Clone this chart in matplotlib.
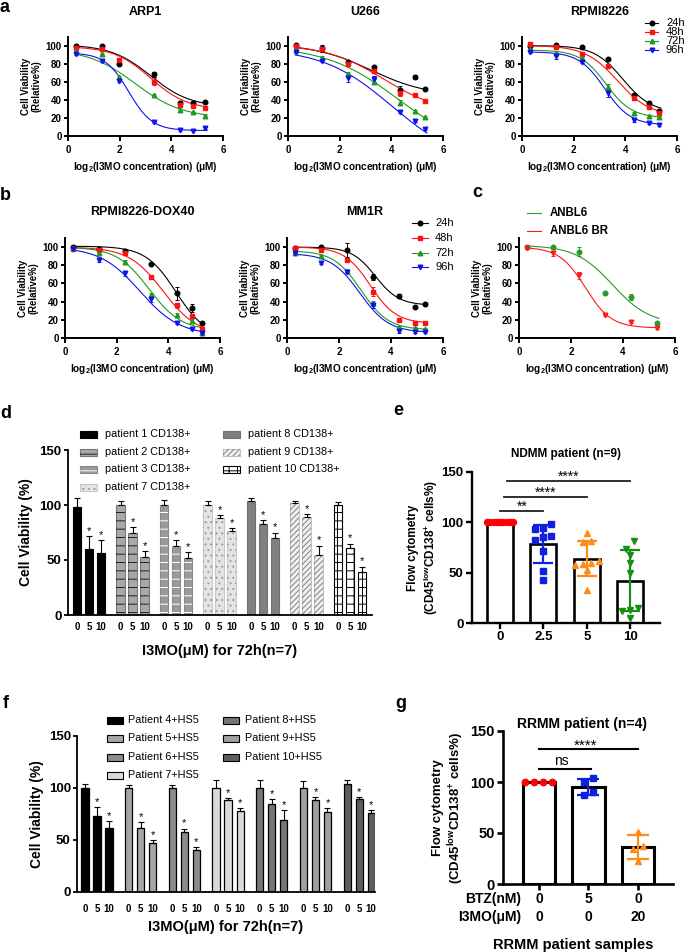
import numpy as np
import matplotlib
matplotlib.use('Agg')
import matplotlib.pyplot as plt
from matplotlib.lines import Line2D
from matplotlib.patches import Rectangle
import matplotlib.transforms as mtransforms

plt.rcParams['font.family'] = ['Liberation Sans', 'DejaVu Sans']
plt.rcParams['mathtext.fontset'] = 'custom'
plt.rcParams['mathtext.rm'] = 'Liberation Sans'
plt.rcParams['mathtext.bf'] = 'Liberation Sans:bold'
plt.rcParams['mathtext.it'] = 'Liberation Sans:italic'
plt.rcParams['hatch.linewidth'] = 0.7

# ======================= DATA =======================
TIME_LABELS = ['24h', '48h', '72h', '96h']

# ---- panel a ----
ARP1_LOGC = [0.32, 1.32, 1.97, 3.32, 4.32, 4.85, 5.32]
ARP1_Y = [[100, 99, 80, 68, 36, 37, 38],
          [97, 96, 84, 60, 34, 33, 31],
          [94, 91, 65, 45, 29, 26, 22],
          [91, 83, 61, 15, 7, 6, 9]]
ARP1_ERR = [[2, 1, 1, 3, 3, 2, 1],
            [1, 1, 1, 4, 2, 2, 1],
            [1, 1, 1, 1, 1, 1, 1],
            [1, 1, 1, 1, 1, 1, 1]]
ARP1_FIT = [[101, 32, 3.2, 1.3], [99, 29, 3.2, 1.4], [96, 20, 2.6, 1.1], [92, 6, 2.35, 2.2]]

U266_LOGC = [0.32, 1.32, 2.32, 3.32, 4.32, 4.91, 5.32]
U266_Y = [[101, 97, 82, 76, 51, 65, 52],
          [99, 96, 80, 72, 47, 45, 39],
          [95, 86, 68, 60, 37, 28, 21],
          [93, 83, 64, 63, 27, 17, 8]]
U266_ERR = [[1, 4, 2, 1, 4, 2, 1],
            [1, 2, 2, 2, 3, 1, 1],
            [1, 2, 3, 3, 3, 1, 1],
            [1, 1, 4, 3, 2, 1, 1]]
U266_FIT = [[102, 44, 3.2, 0.9], [101, 25, 3.7, 0.9], [100, -20, 4.3, 0.7], [97, -30, 4.0, 0.75]]

RPMI_LOGC = [0.32, 1.32, 2.32, 3.32, 4.32, 4.91, 5.32]
RPMI_Y = [[100, 101, 98, 85, 45, 36, 28],
          [102, 98, 91, 77, 42, 32, 25],
          [96, 92, 86, 54, 25, 22, 21],
          [93, 88, 82, 47, 18, 14, 12]]
RPMI_ERR = [[1, 1, 1, 1, 2, 2, 2],
            [1, 1, 2, 2, 2, 2, 2],
            [1, 2, 1, 3, 2, 1, 1],
            [1, 3, 1, 4, 2, 1, 1]]
RPMI_FIT = [[100, 26, 3.9, 1.8], [100, 22, 3.7, 1.6], [95, 20, 3.25, 2.0], [93, 12, 3.2, 2.0]]

# ---- panel b ----
DOX_LOGC = [0.32, 1.32, 2.32, 3.32, 4.32, 4.91, 5.32]
DOX_Y = [[100, 98, 96, 81, 49, 33, 17],
         [98, 97, 93, 67, 36, 24, 10],
         [99, 94, 84, 47, 25, 19, 5],
         [98, 86, 71, 43, 17, 10, 6]]
DOX_ERR = [[1, 2, 2, 1, 7, 4, 1],
           [1, 1, 2, 2, 3, 2, 2],
           [1, 2, 2, 2, 2, 2, 1],
           [1, 2, 3, 3, 2, 1, 1]]
DOX_FIT = [[101, 0, 4.3, 1.7], [100, 3, 3.8, 1.5], [100, 8, 3.25, 1.6], [100, 3, 2.9, 1.3]]

MM1R_LOGC = [0.32, 1.32, 2.32, 3.32, 4.32, 4.91, 5.32]
MM1R_Y = [[99, 100, 97, 67, 46, 34, 37],
          [99, 97, 86, 51, 20, 17, 17],
          [94, 90, 74, 38, 12, 11, 10],
          [94, 83, 73, 36, 8, 7, 7]]
MM1R_ERR = [[2, 1, 8, 3, 2, 1, 1],
            [1, 1, 2, 5, 2, 1, 1],
            [1, 1, 2, 3, 1, 1, 1],
            [1, 2, 2, 3, 2, 1, 1]]
MM1R_FIT = [[100, 36, 3.4, 2.2], [100, 16, 3.2, 2.0], [96, 9, 2.85, 1.9], [93, 6, 2.8, 1.8]]

# ---- panel c ----
ANBL_LABELS = ['ANBL6', 'ANBL6 BR']
ANBL_LOGC = [0.32, 1.32, 2.32, 3.32, 4.32, 5.32]
ANBL_Y = [[100, 100, 95, 49, 45, 17],
          [99, 94, 69, 25, 18, 11]]
ANBL_ERR = [[2, 1, 5, 1, 3, 1],
            [1, 4, 4, 1, 1, 1]]
ANBL_FIT = [[102, 15, 3.6, 1.4], [100, 11, 2.55, 2.0]]

# ---- panel d ----
D_DOSES = ['0', '5', '10']
D_PATIENTS = ['patient 1 CD138+', 'patient 2 CD138+', 'patient 3 CD138+', 'patient 7 CD138+',
              'patient 8 CD138+', 'patient 9 CD138+', 'patient 10 CD138+']
D_MEAN = [[98, 60, 56], [100, 75, 53], [100, 63, 52], [100, 88, 76],
          [104, 83, 70], [102, 89, 55], [100, 61, 39]]
D_SD = [[8, 12, 12], [4, 5, 5], [5, 5, 5], [4, 3, 3], [2, 3, 5], [2, 3, 8], [3, 4, 5]]

# ---- panel e ----
E_DOSES = ['0', '2.5', '5', '10']
E_POINTS = [[100, 100, 100, 100, 100, 100, 100, 100, 100],
            [98, 94, 93, 86, 85, 82, 72, 52, 43],
            [89, 81, 80, 62, 60, 59, 58, 53, 33],
            [81, 74, 68, 60, 50, 15, 13, 12, 5]]
E_SIG = [(0, 1, '**'), (0, 2, '****'), (0, 3, '****')]

# ---- panel f ----
F_DOSES = ['0', '5', '10']
F_PATIENTS = ['Patient 4+HS5', 'Patient 5+HS5', 'Patient 6+HS5', 'Patient 7+HS5',
              'Patient 8+HS5', 'Patient 9+HS5', 'Patient 10+HS5']
F_MEAN = [[100, 73, 62], [100, 62, 47], [100, 58, 40], [100, 88, 78],
          [100, 85, 69], [100, 88, 77], [104, 89, 76]]
F_SD = [[4, 9, 6], [3, 5, 3], [3, 3, 3], [8, 2, 3], [8, 4, 10], [7, 3, 4], [4, 2, 3]]

# ---- panel g ----
G_BTZ = ['0', '5', '0']
G_I3MO = ['0', '0', '20']
G_POINTS = [[100, 100, 100, 100],
            [104, 100, 90, 87],
            [51, 37, 34, 23]]
G_SIG = [(0, 1, 'ns'), (0, 2, '****')]

# ======================= FIGURE =======================
W, H = 687, 952
fig = plt.figure(figsize=(W / 100, H / 100), dpi=100)
PX = mtransforms.Affine2D().scale(1.0 / W, -1.0 / H).translate(0, 1) + fig.transFigure


def add_ax(l, t, r, b):
    return fig.add_axes([l / W, 1 - b / H, (r - l) / W, (b - t) / H])


def ftext(x, y, s, **kw):
    kw.setdefault('ha', 'center')
    kw.setdefault('va', 'center')
    return fig.text(x / W, 1 - y / H, s, **kw)


def base_style(ax, lw, tl, tp, fs):
    for s in ['top', 'right']:
        ax.spines[s].set_visible(False)
    for s in ['left', 'bottom']:
        ax.spines[s].set_linewidth(lw)
    ax.tick_params(direction='out', width=lw, length=tl, pad=tp, labelsize=fs)


DOSE_COLORS = ['#000000', '#ff1010', '#1f9a1f', '#1010f0']
DOSE_MARKERS = ['o', 's', '^', 'v']


def dose_panel(l, t, r, b, x, ys, errs, fits, colors, markers, title, title_y):
    ax = add_ax(l, t, r, b)
    xs = np.linspace(min(x) - 0.04, max(x) + 0.06, 200)
    for y, e, p, c, m in zip(ys, errs, fits, colors, markers):
        top, bot, x50, k = p
        ax.plot(xs, bot + (top - bot) / (1 + np.exp(k * (xs - x50))), color=c, lw=0.8, zorder=2)
        ax.errorbar(x, y, yerr=e, fmt=m, color=c, ms=3.3, elinewidth=0.7, capsize=1.5,
                    capthick=0.7, zorder=3, clip_on=False)
    ax.set_xlim(0, 6)
    ax.set_ylim(0, 110)
    base_style(ax, 1.4, 3.3, 3, 7)
    ax.tick_params(axis='y', pad=1.5, length=3)
    ax.set_xticks([0, 2, 4, 6], ['0', '2', '4', '6'], fontweight='bold')
    ax.set_yticks([0, 20, 40, 60, 80, 100], ['0', '20', '40', '60', '80', '100'], fontweight='bold')
    ax.set_xlabel(r'log$_{\mathbf{2}}$(I3MO concentration) (μM)', fontweight='bold', fontsize=7.2,
                  labelpad=4)
    ax.set_ylabel('Cell Viability\n(Relative%)', fontweight='bold', fontsize=6.9, labelpad=3,
                  linespacing=1.05)
    ftext((l + r) / 2, title_y, title, fontsize=9, fontweight='bold')
    return ax


# ---------- panel a ----------
dose_panel(68, 36.5, 223, 136, ARP1_LOGC, ARP1_Y, ARP1_ERR, ARP1_FIT, DOSE_COLORS, DOSE_MARKERS, 'ARP1', 12)
dose_panel(288, 36.5, 443, 136, U266_LOGC, U266_Y, U266_ERR, U266_FIT, DOSE_COLORS, DOSE_MARKERS, 'U266', 12)
dose_panel(522, 36.5, 677, 136, RPMI_LOGC, RPMI_Y, RPMI_ERR, RPMI_FIT, DOSE_COLORS, DOSE_MARKERS, 'RPMI8226', 12)

# ---------- panel b, c ----------
dose_panel(65, 238, 220, 338, DOX_LOGC, DOX_Y, DOX_ERR, DOX_FIT, DOSE_COLORS, DOSE_MARKERS, 'RPMI8226-DOX40', 212)
dose_panel(287, 238, 443, 338, MM1R_LOGC, MM1R_Y, MM1R_ERR, MM1R_FIT, DOSE_COLORS, DOSE_MARKERS, 'MM1R', 212)
ANBL_COLORS = ['#2a9a2a', '#ff1a1a']
ANBL_MARKERS = ['o', 'v']
dose_panel(519, 238, 675, 338, ANBL_LOGC, ANBL_Y, ANBL_ERR, ANBL_FIT, ANBL_COLORS, ANBL_MARKERS, '', 212)


def line_legend(x0, x1, text_x, ys, labels, colors, markers, fs, weight='normal'):
    for y, lab, c, m in zip(ys, labels, colors, markers):
        fig.add_artist(Line2D([x0, x1], [y, y], transform=PX, color=c, lw=0.8))
        if m is not None:
            fig.add_artist(Line2D([(x0 + x1) / 2], [y], transform=PX, color=c, marker=m, ms=3.3, lw=0))
        ftext(text_x, y, lab, ha='left', fontsize=fs, fontweight=weight)


line_legend(645, 658, 666, [23, 32, 41, 50], TIME_LABELS, DOSE_COLORS, DOSE_MARKERS, 8)
line_legend(412, 428, 435, [223, 238, 253, 267], TIME_LABELS, DOSE_COLORS, DOSE_MARKERS, 8)
line_legend(527, 541, 550, [213, 231], ANBL_LABELS, ANBL_COLORS, [None, None], 8.3, 'bold')

# ---------- panel d ----------
D_FACE = ['#000000', '#a8a8a8', '#9a9a9a', '#e4e4e4', '#808080', '#f0f0f0', '#ffffff']
D_EDGE = ['#000000', '#777777', '#888888', '#c8c8c8', '#707070', '#c0c0c0', '#000000']
D_HATCH = [None, '--', '--', '...', None, '//////', '++']
D_HCOL = [None, '#202020', '#ffffff', '#9a9a9a', None, '#808080', '#000000']

axd = add_ax(68, 450, 372, 615)
d_pos = []
for i in range(len(D_PATIENTS)):
    pos = [0.75 + i * 3.625 + j for j in range(3)]
    d_pos += pos
    axd.bar(pos, D_MEAN[i], width=0.68, color=D_FACE[i], edgecolor=D_EDGE[i], lw=0.8, zorder=2)
    if D_HATCH[i]:
        axd.bar(pos, D_MEAN[i], width=0.68, color='none', edgecolor=D_HCOL[i], hatch=D_HATCH[i],
                lw=0, zorder=2.5)
    axd.errorbar(pos, D_MEAN[i], yerr=[[0] * 3, D_SD[i]], fmt='none', ecolor='black', elinewidth=0.8,
                 capsize=2, capthick=0.8, zorder=3)
    for j in (1, 2):
        axd.text(pos[j], D_MEAN[i][j] + D_SD[i][j] + 2, '*', ha='center', va='baseline', fontsize=8)
axd.set_xlim(0, 25.33)
axd.set_ylim(0, 150)
base_style(axd, 1.3, 3, 1.5, 9.5)
axd.set_xticks(d_pos, D_DOSES * len(D_PATIENTS), fontweight='bold', fontsize=7)
axd.tick_params(axis='x', length=0, pad=5)
axd.set_yticks([0, 50, 100, 150], ['0', '50', '100', '150'], fontweight='bold')
axd.set_xlabel('I3MO(μM) for 72h(n=7)', fontweight='bold', fontsize=10.5, labelpad=9)
axd.set_ylabel('Cell Viability (%)', fontweight='bold', fontsize=10, labelpad=5)


def patch_legend(x0, w, text_x, ys, labels, faces, edges, hatches, hcols, fs):
    for y, lab, fc, ec, ht, hc in zip(ys, labels, faces, edges, hatches, hcols):
        fig.add_artist(Rectangle((x0, y - 3.5), w, 7, transform=PX, facecolor=fc, edgecolor=ec, lw=0.8))
        if ht:
            fig.add_artist(Rectangle((x0, y - 3.5), w, 7, transform=PX, facecolor='none',
                                     edgecolor=hc, hatch=ht, lw=0))
        ftext(text_x, y, lab, ha='left', fontsize=fs)


patch_legend(80, 17, 105, [434, 452, 469, 487], D_PATIENTS[:4], D_FACE[:4], D_EDGE[:4], D_HATCH[:4],
             D_HCOL[:4], 7.8)
patch_legend(223, 17, 248, [434, 452, 469], D_PATIENTS[4:], D_FACE[4:], D_EDGE[4:], D_HATCH[4:],
             D_HCOL[4:], 7.8)

# ---------- panel f ----------
F_FACE = ['#000000', '#a6a6a6', '#8c8c8c', '#dadada', '#767676', '#a0a0a0', '#5e5e5e']
axf = add_ax(77, 736, 375, 892)
f_pos = []
for i in range(len(F_PATIENTS)):
    pos = [0.67 + i * 3.64 + j for j in range(3)]
    f_pos += pos
    axf.bar(pos, F_MEAN[i], width=0.6, color=F_FACE[i], edgecolor='black', lw=0.9, zorder=2)
    axf.errorbar(pos, F_MEAN[i], yerr=[[0] * 3, F_SD[i]], fmt='none', ecolor='black', elinewidth=0.8,
                 capsize=2, capthick=0.8, zorder=3)
    for j in (1, 2):
        axf.text(pos[j], F_MEAN[i][j] + F_SD[i][j] + 2, '*', ha='center', va='baseline', fontsize=8)
axf.set_xlim(0, 24.83)
axf.set_ylim(0, 150)
base_style(axf, 1.3, 3, 1.5, 9.5)
axf.set_xticks(f_pos, F_DOSES * len(F_PATIENTS), fontweight='bold', fontsize=7)
axf.tick_params(axis='x', length=0, pad=9)
axf.set_yticks([0, 50, 100, 150], ['0', '50', '100', '150'], fontweight='bold')
axf.set_xlabel('I3MO(μM) for 72h(n=7)', fontweight='bold', fontsize=10.5, labelpad=4)
axf.set_ylabel('Cell Viability (%)', fontweight='bold', fontsize=10, labelpad=3)
patch_legend(107, 16, 128, [720, 738, 757, 775], F_PATIENTS[:4], F_FACE[:4], ['black'] * 4, [None] * 4,
             [None] * 4, 7.8)
patch_legend(223, 16, 245, [720, 738, 757], F_PATIENTS[4:], F_FACE[4:], ['black'] * 3, [None] * 3,
             [None] * 3, 7.8)


# ---------- scatter-bar helpers ----------
def swarm_offsets(vals, ypu, xpu, d_px, max_px):
    vals = np.asarray(vals, float)
    order = np.argsort(-vals, kind='stable')
    offs = np.zeros(len(vals))
    rows = []
    for i in order:
        if rows and (vals[rows[-1][0]] - vals[i]) * ypu < d_px:
            rows[-1].append(i)
        else:
            rows.append([i])
    for row in rows:
        row = sorted(row, key=lambda j: vals[j])
        n = len(row)
        step = d_px
        if n > 1 and (n - 1) * step / 2 > max_px:
            step = 2 * max_px / (n - 1)
        for k, j in enumerate(row):
            offs[j] = (k - (n - 1) / 2) * step / xpu
    return offs


def scatter_bar(ax, groups, colors, markers, ms, width, ypu, xpu, d_px, max_px, lw, capsize):
    for i, (pts, c, m) in enumerate(zip(groups, colors, markers)):
        mean = np.mean(pts)
        sd = np.std(pts, ddof=1)
        ax.bar(i, mean, width=width, color='white', edgecolor='black', lw=lw, zorder=2)
        offs = swarm_offsets(pts, ypu, xpu, d_px, max_px)
        ax.plot(i + offs, pts, ls='none', marker=m, color=c, ms=ms, zorder=4, clip_on=False)
        if sd > 0:
            ax.errorbar([i], [mean], yerr=[sd], fmt='none', ecolor=c, elinewidth=1.6, capsize=capsize,
                        capthick=1.6, zorder=5)


# ---------- panel e ----------
E_COLORS = ['#ff0000', '#1020e0', '#ff8c1a', '#168f16']
E_MARKERS = ['o', 's', '^', 'v']
axe = add_ax(472, 472, 660, 623)
scatter_bar(axe, E_POINTS, E_COLORS, E_MARKERS, 4.3, 0.6, 151 / 150, 43.3, 8, 13, 1.9, 7)
axe.set_xlim(-0.65, 3.69)
axe.set_ylim(0, 150)
base_style(axe, 1.7, 4, 2, 9.5)
axe.set_xticks(range(4), E_DOSES, fontweight='bold')
axe.set_yticks([0, 50, 100, 150], ['0', '50', '100', '150'], fontweight='bold')
axe.set_ylabel('Flow cytometry\n(CD45$^{\\mathbf{low}}$CD138$^{\\mathbf{+}}$ cells%)', fontweight='bold',
               fontsize=8.5, labelpad=1)
axe.set_title('NDMM patient (n=9)', fontweight='bold', fontsize=8.5, pad=11)
for k, (a, b, s) in enumerate(E_SIG):
    yl = [111, 125, 141][k]
    x0 = a + 0.08 * k
    axe.plot([x0, b], [yl, yl], color='#202020', lw=1.3, clip_on=False, zorder=3)
    axe.text((x0 + b) / 2, yl + 0.5, s, ha='center', va='baseline', fontsize=10)

# ---------- panel g ----------
G_COLORS = ['#ff0000', '#1020e0', '#ff8c1a']
G_MARKERS = ['o', 's', '^']
axg = add_ax(503, 731, 673, 884)
scatter_bar(axg, G_POINTS, G_COLORS, G_MARKERS, 4.6, 0.65, 153 / 150, 49.5, 9, 14, 2.2, 8)
axg.set_xlim(-0.727, 2.707)
axg.set_ylim(0, 150)
base_style(axg, 1.9, 4, 2, 10.5)
axg.set_xticks(range(3), [''] * 3)
axg.set_yticks([0, 50, 100, 150], ['0', '50', '100', '150'], fontweight='bold')
axg.set_ylabel('Flow cytometry\n(CD45$^{\\mathbf{low}}$CD138$^{\\mathbf{+}}$ cells%)', fontweight='bold',
               fontsize=9.5, labelpad=3)
ftext(582, 724, 'RRMM patient (n=4)', fontsize=10, fontweight='bold')
for k, (a, b, s) in enumerate(G_SIG):
    yl = [113, 132][k]
    axg.plot([a, b - 0.05 * k + 0.05], [yl, yl], color='black', lw=1.5, clip_on=False, zorder=3)
    axg.text((a + b) / 2 - 0.05, yl + (4 if s == 'ns' else 0), s, ha='center', va='baseline',
             fontsize=10 if s == 'ns' else 11)
gtr = mtransforms.blended_transform_factory(axg.transData, PX)
for i in range(3):
    axg.text(i, 899, G_BTZ[i], transform=gtr, ha='center', va='center', fontsize=10, fontweight='bold')
    axg.text(i, 917, G_I3MO[i], transform=gtr, ha='center', va='center', fontsize=10, fontweight='bold')
ftext(521, 899, 'BTZ(nM)', ha='right', fontsize=10, fontweight='bold')
ftext(521, 917, 'I3MO(μM)', ha='right', fontsize=10, fontweight='bold')
ftext(573, 945, 'RRMM patient samples', fontsize=10.5, fontweight='bold')

# ---------- panel letters ----------
for lab, x, y in [('a', 0, 12), ('b', 0, 200), ('c', 472, 197), ('d', 0, 418), ('e', 393, 415),
                  ('f', 3, 708), ('g', 395, 708)]:
    ftext(x, y, lab, ha='left', va='baseline', fontsize=13, fontweight='bold')

fig.savefig('out.png', dpi=100)
